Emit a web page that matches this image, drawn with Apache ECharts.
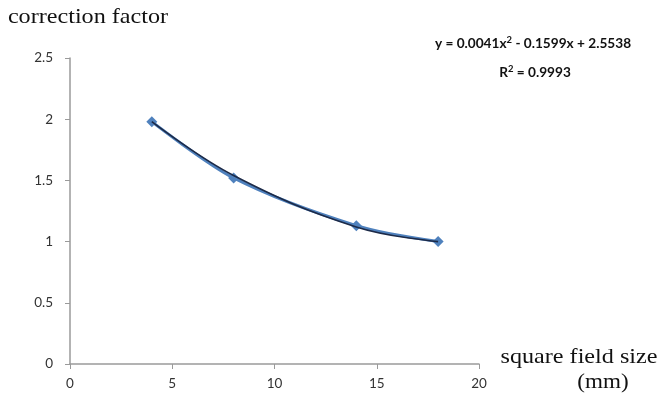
<!DOCTYPE html>
<html>
<head>
<meta charset="utf-8">
<script src="https://cdn.jsdelivr.net/npm/echarts@6/dist/echarts.min.js"></script>
<style>
  html, body { margin: 0; padding: 0; background: #fff; }
  #chart { width: 665px; height: 398px; }
</style>
</head>
<body>
<div id="chart"></div>
<script>
// measured points (square field size in mm, correction factor)
var fieldSizes = [4, 8, 14, 18];
var factors = [1.98, 1.52, 1.13, 1.0];
// polynomial trendline at the same sizes
var trendValues = [1.98, 1.54, 1.12, 1.0];
var xTicks = [0, 5, 10, 15, 20];
var yTicks = [0, 0.5, 1, 1.5, 2, 2.5];
var equationText = 'y = 0.0041x{sup|2} - 0.1599x + 2.5538';
var r2Text = 'R{sup|2} = 0.9993';

function pairs(xs, ys) {
    var out = [];
    for (var i = 0; i < xs.length; i++) {
        out.push([xs[i], ys[i]]);
    }
    return out;
}

// free text placed by its centre point
function label(text, cx, cy, font, sx) {
    return {
        type: 'text',
        x: cx,
        y: cy,
        scaleX: sx || 1,
        style: {
            text: text,
            align: 'center',
            verticalAlign: 'middle',
            font: font,
            fill: '#111',
            rich: {
                sup: {
                    fontSize: 9,
                    fontFamily: 'Lato',
                    fontWeight: 'bold',
                    verticalAlign: 'top',
                    padding: [0, 0, 7, 0]
                }
            }
        }
    };
}

var char = echarts.init(document.getElementById('chart'), null, {renderer: 'canvas'});

var option = {
    animation: false,
    backgroundColor: '#fff',
    grid: {
        left: 70,
        right: 186,
        top: 58,
        bottom: 34
    },
    graphic: [
        label('correction factor', 88, 17, '21px "Liberation Serif"', 1.15),
        label('square field size', 579, 357, '21px "Liberation Serif"', 1.15),
        label('(mm)', 603, 382, '21px "Liberation Serif"', 1.1),
        label(equationText, 533, 44, 'bold 13px Lato', 1.05),
        label(r2Text, 535, 73, 'bold 13px Lato', 1.05)
    ],
    xAxis: {
        type: 'value',
        min: xTicks[0],
        max: xTicks[xTicks.length - 1],
        interval: 5,
        axisLine: {lineStyle: {color: '#9a9a9a', width: 1.5}},
        axisTick: {show: true, length: 5, lineStyle: {color: '#9a9a9a'}},
        axisLabel: {
            margin: 13,
            fontFamily: 'Lato',
            fontSize: 13.5,
            color: '#333'
        },
        splitLine: {show: false}
    },
    yAxis: {
        type: 'value',
        min: yTicks[0],
        max: yTicks[yTicks.length - 1],
        interval: 0.5,
        axisLine: {show: true, lineStyle: {color: '#9a9a9a', width: 1.5}},
        axisTick: {show: true, length: 5, lineStyle: {color: '#9a9a9a'}},
        axisLabel: {
            margin: 17,
            fontFamily: 'Lato',
            fontSize: 13.5,
            color: '#333'
        },
        splitLine: {show: false}
    },
    series: [
        {
            type: 'line',
            data: pairs(fieldSizes, factors),
            smooth: 0.3,
            symbol: 'diamond',
            symbolSize: 11,
            itemStyle: {color: '#4f81bd'},
            lineStyle: {color: '#4f81bd', width: 3},
            z: 2
        },
        {
            type: 'line',
            data: pairs(fieldSizes, trendValues),
            smooth: 0.4,
            showSymbol: false,
            lineStyle: {color: '#1c2a48', width: 1.6},
            z: 3
        }
    ]
};

char.setOption(option);
</script>
</body>
</html>
